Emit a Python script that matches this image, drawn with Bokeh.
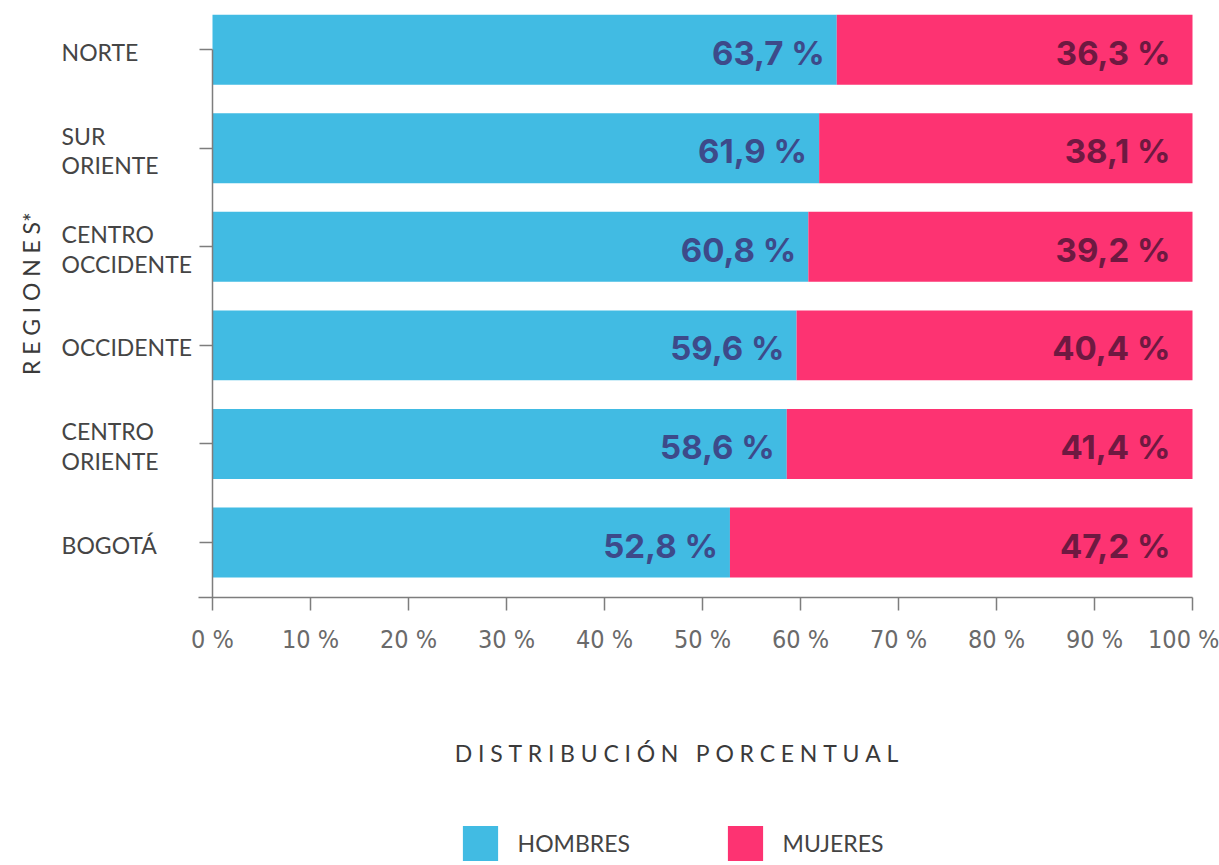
import math
from bokeh.plotting import figure
from bokeh.models import Range1d, FixedTicker, Label, Legend, LegendItem
from bokeh.core.properties import value
from bokeh.embed import file_html
from bokeh.resources import INLINE

# ---- data (bottom to top) ----
regions = ["BOGOTÁ", "CENTRO\nORIENTE", "OCCIDENTE", "CENTRO\nOCCIDENTE", "SUR\nORIENTE", "NORTE"]
hombres = [52.8, 58.6, 59.6, 60.8, 61.9, 63.7]
mujeres = [47.2, 41.4, 40.4, 39.2, 38.1, 36.3]
x_ticks = [0, 10, 20, 30, 40, 50, 60, 70, 80, 90, 100]
x_tick_labels = ["0 %", "10 %", "20 %", "30 %", "40 %", "50 %", "60 %", "70 %", "80 %", "90 %", "100 %"]
series_names = ["HOMBRES", "MUJERES"]

BLUE = "#41BBE3"
PINK = "#FD3372"
BLUE_TXT = "#3D4A8A"
PINK_TXT = "#6E1941"
GREY_AX = "#7d7d7d"

ypos = list(range(len(regions)))
mujeres_left = hombres
mujeres_right = [h + m for h, m in zip(hombres, mujeres)]
fmt = lambda v: f"{v:.1f}".replace(".", ",") + " %"
h_txt = [fmt(v) for v in hombres]
m_txt = [fmt(v) for v in mujeres]

# frame covers the whole canvas; axes are drawn at fixed locations inside it
p = figure(width=1219, height=865,
           x_range=Range1d(-21.633, 102.755), y_range=Range1d(-3.277, 5.499),
           output_backend="svg", toolbar_location=None)
p.min_border = 0
p.outline_line_color = None
p.grid.visible = False
p.background_fill_color = "white"
p.border_fill_color = "white"

r_h = p.hbar(y=ypos, left=0, right=hombres, height=0.71,
             fill_color=BLUE, line_color=None)
r_m = p.hbar(y=ypos, left=mujeres_left, right=mujeres_right, height=0.71,
             fill_color=PINK, line_color=None)

p.text(x=hombres, y=ypos, text=h_txt, text_align="right", text_baseline="middle",
       x_offset=-12, y_offset=3, text_font=value("Inter"), text_font_style="bold",
       text_font_size="33px", text_color=BLUE_TXT)
p.text(x=mujeres_right, y=ypos, text=m_txt, text_align="right", text_baseline="middle",
       x_offset=-22, y_offset=3, text_font=value("Inter"), text_font_style="bold",
       text_font_size="33px", text_color=PINK_TXT)

# x axis
xa = p.xaxis[0]
xa.fixed_location = -0.558
xa.bounds = (-1.4, 100)
xa.ticker = FixedTicker(ticks=x_ticks)
xa.major_label_overrides = dict(zip(x_ticks, x_tick_labels))
xa.axis_line_color = GREY_AX
xa.axis_line_width = 1.5
xa.major_tick_line_color = GREY_AX
xa.major_tick_line_width = 1.5
xa.major_tick_out = 13
xa.major_tick_in = 0
xa.minor_tick_line_color = None
xa.major_label_standoff = 14
xa.major_label_text_font = "DejaVu Sans Condensed"
xa.major_label_text_font_size = "25px"
xa.major_label_text_color = "#6a6a6a"

# y axis
ya = p.yaxis[0]
ya.fixed_location = 0
ya.bounds = (-0.558, 5)
ya.ticker = FixedTicker(ticks=ypos)
ya.major_label_overrides = {i: "" for i in ypos}
ya.axis_line_color = GREY_AX
ya.axis_line_width = 1.5
ya.major_tick_line_color = GREY_AX
ya.major_tick_line_width = 1.5
ya.major_tick_out = 13
ya.major_tick_in = 0
ya.minor_tick_line_color = None

# category labels (left aligned)
for i, name in enumerate(regions):
    p.add_layout(Label(x=-15.4, y=ypos[i], text=name, text_align="left",
                       text_baseline="middle", text_font="Lato",
                       text_font_size="23px", text_color="#454545",
                       text_line_height=1.05, y_offset=-2))

sp = "\u2005"
y_title = sp.join("REGIONES") + "*"
x_title = (sp + " " + sp).join(sp.join(w) for w in "DISTRIBUCIÓN PORCENTUAL".split())

p.add_layout(Label(x=-18.47, y=2.526, text=y_title, angle=math.pi / 2,
                   text_align="center", text_baseline="middle", text_font="Lato",
                   text_font_size="23px", text_color="#3a3a3a"))
p.add_layout(Label(x=47.35, y=-2.137, text=x_title, text_align="center",
                   text_baseline="middle", text_font="Lato",
                   text_font_size="23px", text_color="#3a3a3a"))

# legends (one per item to place each square)
for name, rend, vx in [(series_names[0], r_h, 457.6), (series_names[1], r_m, 722.6)]:
    lg = Legend(items=[LegendItem(label=name, renderers=[rend])],
                location=(vx, 0), orientation="horizontal",
                glyph_width=44, glyph_height=44, label_standoff=16,
                padding=0, margin=0, border_line_color=None,
                background_fill_alpha=0, label_text_font="Lato",
                label_text_font_size="23px", label_text_color="#444444",
                label_height=44)
    p.add_layout(lg)

open("out.html", "w").write(file_html(p, INLINE))
